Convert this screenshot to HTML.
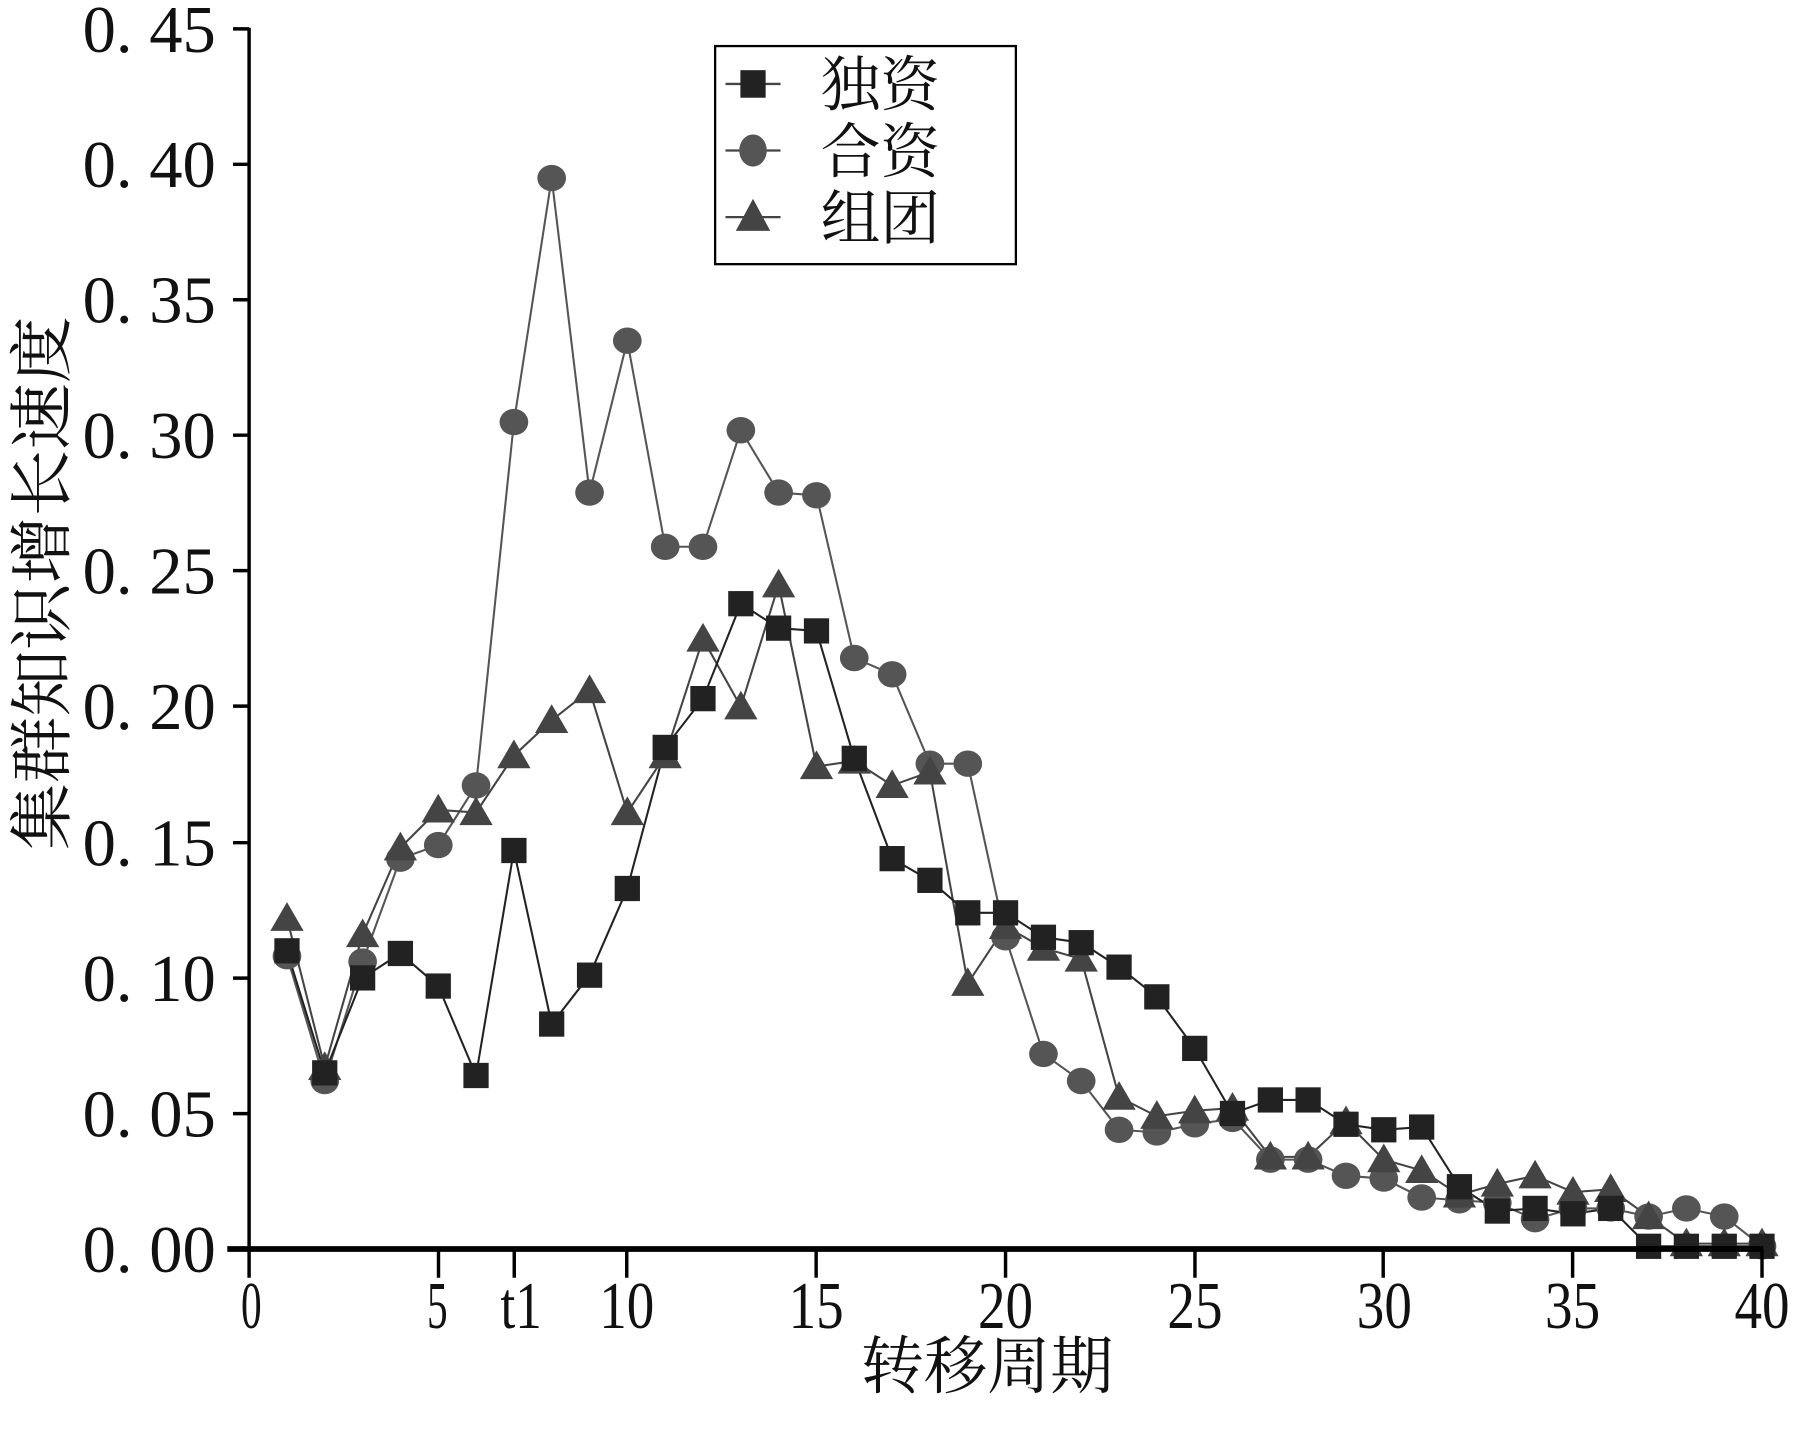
<!DOCTYPE html>
<html><head><meta charset="utf-8"><style>
html,body{margin:0;padding:0;background:#fff;}
svg{display:block;}
text{font-family:"Liberation Serif","Noto Serif CJK SC","Noto Sans CJK SC",serif;fill:#111;}
</style></head><body>
<svg width="1793" height="1434" viewBox="0 0 1562 1249" xmlns="http://www.w3.org/2000/svg">
<defs>
<rect id="sq" x="-11" y="-11" width="22" height="22" fill="#222"/>
<ellipse id="ci" cx="0" cy="0" rx="12.5" ry="11.5" fill="#555"/>
<polygon id="tr" points="0,-14 -14.5,11 14.5,11" fill="#444"/>
</defs>
<rect width="1562" height="1249" fill="#fff"/>
<polyline fill="none" stroke="#555" stroke-width="1.8" points="250,832.9 282.9,941.6 315.9,837.6 348.8,747.9 381.8,736.1 414.7,684.1 447.7,367.6 480.6,155 513.6,429 546.5,296.7 579.5,476.2 612.4,476.2 645.4,374.7 678.3,429 711.3,431.4 744.2,573.1 777.2,587.3 810.1,665.2 843.1,665.2 876,816.4 909,918 941.9,941.6 974.9,984.1 1007.8,986.4 1040.8,979.3 1073.7,974.6 1106.7,1010.1 1139.6,1010.1 1172.6,1024.2 1205.5,1026.6 1238.5,1043.1 1271.4,1045.5 1304.4,1047.8 1337.3,1062 1370.3,1052.6 1403.2,1052.6 1436.2,1059.7 1469.1,1052.6 1502.1,1059.7 1535,1085.6"/>
<polyline fill="none" stroke="#444" stroke-width="1.8" points="250,799.8 282.9,929.7 315.9,814 348.8,738.4 381.8,705.4 414.7,707.7 447.7,658.1 480.6,627.4 513.6,601.4 546.5,707.7 579.5,658.1 612.4,556.5 645.4,615.6 678.3,509.3 711.3,667.6 744.2,662.8 777.2,684.1 810.1,672.3 843.1,856.5 876,806.9 909,825.8 941.9,835.3 974.9,955.7 1007.8,972.3 1040.8,967.5 1073.7,965.2 1106.7,1007.7 1139.6,1007.7 1172.6,977 1205.5,1010.1 1238.5,1019.5 1271.4,1040.8 1304.4,1031.3 1337.3,1024.2 1370.3,1038.4 1403.2,1036 1436.2,1059.7 1469.1,1083.3 1502.1,1083.3 1535,1083.3"/>
<polyline fill="none" stroke="#222" stroke-width="1.8" points="250,828.2 282.9,934.5 315.9,851.8 348.8,830.5 381.8,858.9 414.7,936.8 447.7,740.8 480.6,892 513.6,849.4 546.5,773.9 579.5,651 612.4,608.5 645.4,525.8 678.3,547.1 711.3,549.5 744.2,660.5 777.2,747.9 810.1,766.8 843.1,795.1 876,795.1 909,816.4 941.9,821.1 974.9,842.4 1007.8,868.3 1040.8,913.2 1073.7,969.9 1106.7,958.1 1139.6,958.1 1172.6,979.3 1205.5,984.1 1238.5,981.7 1271.4,1033.7 1304.4,1054.9 1337.3,1052.6 1370.3,1057.3 1403.2,1052.6 1436.2,1085.6 1469.1,1085.6 1502.1,1085.6 1535,1085.6"/>
<g>
<use href="#ci" x="250" y="832.9"/><use href="#ci" x="282.9" y="941.6"/><use href="#ci" x="315.9" y="837.6"/><use href="#ci" x="348.8" y="747.9"/><use href="#ci" x="381.8" y="736.1"/><use href="#ci" x="414.7" y="684.1"/><use href="#ci" x="447.7" y="367.6"/><use href="#ci" x="480.6" y="155"/><use href="#ci" x="513.6" y="429"/><use href="#ci" x="546.5" y="296.7"/><use href="#ci" x="579.5" y="476.2"/><use href="#ci" x="612.4" y="476.2"/><use href="#ci" x="645.4" y="374.7"/><use href="#ci" x="678.3" y="429"/><use href="#ci" x="711.3" y="431.4"/><use href="#ci" x="744.2" y="573.1"/><use href="#ci" x="777.2" y="587.3"/><use href="#ci" x="810.1" y="665.2"/><use href="#ci" x="843.1" y="665.2"/><use href="#ci" x="876" y="816.4"/><use href="#ci" x="909" y="918"/><use href="#ci" x="941.9" y="941.6"/><use href="#ci" x="974.9" y="984.1"/><use href="#ci" x="1007.8" y="986.4"/><use href="#ci" x="1040.8" y="979.3"/><use href="#ci" x="1073.7" y="974.6"/><use href="#ci" x="1106.7" y="1010.1"/><use href="#ci" x="1139.6" y="1010.1"/><use href="#ci" x="1172.6" y="1024.2"/><use href="#ci" x="1205.5" y="1026.6"/><use href="#ci" x="1238.5" y="1043.1"/><use href="#ci" x="1271.4" y="1045.5"/><use href="#ci" x="1304.4" y="1047.8"/><use href="#ci" x="1337.3" y="1062"/><use href="#ci" x="1370.3" y="1052.6"/><use href="#ci" x="1403.2" y="1052.6"/><use href="#ci" x="1436.2" y="1059.7"/><use href="#ci" x="1469.1" y="1052.6"/><use href="#ci" x="1502.1" y="1059.7"/><use href="#ci" x="1535" y="1085.6"/>
</g>
<g>
<use href="#tr" x="250" y="799.8"/><use href="#tr" x="282.9" y="929.7"/><use href="#tr" x="315.9" y="814"/><use href="#tr" x="348.8" y="738.4"/><use href="#tr" x="381.8" y="705.4"/><use href="#tr" x="414.7" y="707.7"/><use href="#tr" x="447.7" y="658.1"/><use href="#tr" x="480.6" y="627.4"/><use href="#tr" x="513.6" y="601.4"/><use href="#tr" x="546.5" y="707.7"/><use href="#tr" x="579.5" y="658.1"/><use href="#tr" x="612.4" y="556.5"/><use href="#tr" x="645.4" y="615.6"/><use href="#tr" x="678.3" y="509.3"/><use href="#tr" x="711.3" y="667.6"/><use href="#tr" x="744.2" y="662.8"/><use href="#tr" x="777.2" y="684.1"/><use href="#tr" x="810.1" y="672.3"/><use href="#tr" x="843.1" y="856.5"/><use href="#tr" x="876" y="806.9"/><use href="#tr" x="909" y="825.8"/><use href="#tr" x="941.9" y="835.3"/><use href="#tr" x="974.9" y="955.7"/><use href="#tr" x="1007.8" y="972.3"/><use href="#tr" x="1040.8" y="967.5"/><use href="#tr" x="1073.7" y="965.2"/><use href="#tr" x="1106.7" y="1007.7"/><use href="#tr" x="1139.6" y="1007.7"/><use href="#tr" x="1172.6" y="977"/><use href="#tr" x="1205.5" y="1010.1"/><use href="#tr" x="1238.5" y="1019.5"/><use href="#tr" x="1271.4" y="1040.8"/><use href="#tr" x="1304.4" y="1031.3"/><use href="#tr" x="1337.3" y="1024.2"/><use href="#tr" x="1370.3" y="1038.4"/><use href="#tr" x="1403.2" y="1036"/><use href="#tr" x="1436.2" y="1059.7"/><use href="#tr" x="1469.1" y="1083.3"/><use href="#tr" x="1502.1" y="1083.3"/><use href="#tr" x="1535" y="1083.3"/>
</g>
<g>
<use href="#sq" x="250" y="828.2"/><use href="#sq" x="282.9" y="934.5"/><use href="#sq" x="315.9" y="851.8"/><use href="#sq" x="348.8" y="830.5"/><use href="#sq" x="381.8" y="858.9"/><use href="#sq" x="414.7" y="936.8"/><use href="#sq" x="447.7" y="740.8"/><use href="#sq" x="480.6" y="892"/><use href="#sq" x="513.6" y="849.4"/><use href="#sq" x="546.5" y="773.9"/><use href="#sq" x="579.5" y="651"/><use href="#sq" x="612.4" y="608.5"/><use href="#sq" x="645.4" y="525.8"/><use href="#sq" x="678.3" y="547.1"/><use href="#sq" x="711.3" y="549.5"/><use href="#sq" x="744.2" y="660.5"/><use href="#sq" x="777.2" y="747.9"/><use href="#sq" x="810.1" y="766.8"/><use href="#sq" x="843.1" y="795.1"/><use href="#sq" x="876" y="795.1"/><use href="#sq" x="909" y="816.4"/><use href="#sq" x="941.9" y="821.1"/><use href="#sq" x="974.9" y="842.4"/><use href="#sq" x="1007.8" y="868.3"/><use href="#sq" x="1040.8" y="913.2"/><use href="#sq" x="1073.7" y="969.9"/><use href="#sq" x="1106.7" y="958.1"/><use href="#sq" x="1139.6" y="958.1"/><use href="#sq" x="1172.6" y="979.3"/><use href="#sq" x="1205.5" y="984.1"/><use href="#sq" x="1238.5" y="981.7"/><use href="#sq" x="1271.4" y="1033.7"/><use href="#sq" x="1304.4" y="1054.9"/><use href="#sq" x="1337.3" y="1052.6"/><use href="#sq" x="1370.3" y="1057.3"/><use href="#sq" x="1403.2" y="1052.6"/><use href="#sq" x="1436.2" y="1085.6"/><use href="#sq" x="1469.1" y="1085.6"/><use href="#sq" x="1502.1" y="1085.6"/><use href="#sq" x="1535" y="1085.6"/>
</g>
<!-- axes -->
<line x1="217" y1="24" x2="217" y2="1090" stroke="#000" stroke-width="3"/>
<line x1="198" y1="1088" x2="1536" y2="1088" stroke="#000" stroke-width="5"/>
<g stroke="#000" stroke-width="3">
<line x1="203" y1="25" x2="217" y2="25"/><line x1="203" y1="143" x2="217" y2="143"/>
<line x1="203" y1="261" x2="217" y2="261"/><line x1="203" y1="379" x2="217" y2="379"/>
<line x1="203" y1="497" x2="217" y2="497"/><line x1="203" y1="615" x2="217" y2="615"/>
<line x1="203" y1="734" x2="217" y2="734"/><line x1="203" y1="852" x2="217" y2="852"/>
<line x1="203" y1="970" x2="217" y2="970"/>
<line x1="217" y1="1088" x2="217" y2="1113"/><line x1="382" y1="1088" x2="382" y2="1113"/>
<line x1="448" y1="1088" x2="448" y2="1113"/><line x1="546" y1="1088" x2="546" y2="1113"/>
<line x1="711" y1="1088" x2="711" y2="1113"/><line x1="876" y1="1088" x2="876" y2="1113"/>
<line x1="1041" y1="1088" x2="1041" y2="1113"/><line x1="1205" y1="1088" x2="1205" y2="1113"/>
<line x1="1370" y1="1088" x2="1370" y2="1113"/><line x1="1535" y1="1088" x2="1535" y2="1113"/>
</g>
<g font-size="58" text-anchor="end">
<text x="188" y="45" textLength="116" lengthAdjust="spacingAndGlyphs">0. 45</text>
<text x="188" y="163" textLength="116" lengthAdjust="spacingAndGlyphs">0. 40</text>
<text x="188" y="281" textLength="116" lengthAdjust="spacingAndGlyphs">0. 35</text>
<text x="188" y="399" textLength="116" lengthAdjust="spacingAndGlyphs">0. 30</text>
<text x="188" y="517" textLength="116" lengthAdjust="spacingAndGlyphs">0. 25</text>
<text x="188" y="635" textLength="116" lengthAdjust="spacingAndGlyphs">0. 20</text>
<text x="188" y="754" textLength="116" lengthAdjust="spacingAndGlyphs">0. 15</text>
<text x="188" y="872" textLength="116" lengthAdjust="spacingAndGlyphs">0. 10</text>
<text x="188" y="990" textLength="116" lengthAdjust="spacingAndGlyphs">0. 05</text>
<text x="188" y="1108" textLength="116" lengthAdjust="spacingAndGlyphs">0. 00</text>
</g>
<g font-size="58" text-anchor="middle">
<text x="219" y="1157" textLength="18" lengthAdjust="spacingAndGlyphs">0</text>
<text x="381" y="1157" textLength="18" lengthAdjust="spacingAndGlyphs">5</text>
<text x="454" y="1157" textLength="36" lengthAdjust="spacingAndGlyphs">t1</text>
<text x="546" y="1157" textLength="48" lengthAdjust="spacingAndGlyphs">10</text>
<text x="711" y="1157" textLength="48" lengthAdjust="spacingAndGlyphs">15</text>
<text x="876" y="1157" textLength="48" lengthAdjust="spacingAndGlyphs">20</text>
<text x="1041" y="1157" textLength="48" lengthAdjust="spacingAndGlyphs">25</text>
<text x="1206" y="1157" textLength="48" lengthAdjust="spacingAndGlyphs">30</text>
<text x="1370" y="1157" textLength="48" lengthAdjust="spacingAndGlyphs">35</text>
<text x="1535" y="1157" textLength="48" lengthAdjust="spacingAndGlyphs">40</text>
</g>
<text x="860" y="1209" font-size="55" text-anchor="middle" textLength="220" lengthAdjust="spacingAndGlyphs">转移周期</text>
<text transform="translate(56,508) rotate(-90)" font-size="56" text-anchor="middle" textLength="465" lengthAdjust="spacingAndGlyphs">集群知识增长速度</text>
<!-- legend -->
<rect x="623" y="40" width="262" height="190" fill="#fff" stroke="#000" stroke-width="2"/>
<g stroke="#444" stroke-width="2">
<line x1="632" y1="73" x2="680" y2="73"/><line x1="632" y1="131" x2="680" y2="131"/><line x1="632" y1="189" x2="680" y2="189"/>
</g>
<rect x="645" y="61" width="22" height="24" fill="#222"/>
<ellipse cx="656" cy="131" rx="12" ry="14" fill="#555"/>
<polygon points="656,173 641,201 671,201" fill="#444"/>
<g font-size="52"><text x="715" y="92">独资</text><text x="715" y="150">合资</text><text x="715" y="208">组团</text></g>
</svg>
</body></html>
